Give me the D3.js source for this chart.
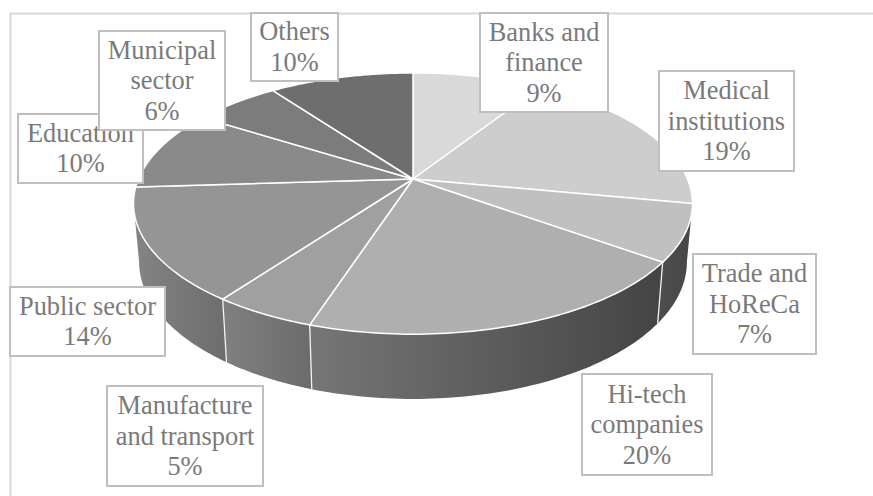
<!DOCTYPE html>
<html>
<head>
<meta charset="utf-8">
<script src="https://cdn.jsdelivr.net/npm/d3@7/dist/d3.min.js"></script>
<style>
  html, body { margin: 0; padding: 0; background: #fff; }
  svg { display: block; }
</style>
</head>
<body>
<script>
// Sector shares, in percent, clockwise from twelve o'clock
const categories = [
  ["Banks and", "finance"],
  ["Medical", "institutions"],
  ["Trade and", "HoReCa"],
  ["Hi-tech", "companies"],
  ["Manufacture", "and transport"],
  ["Public sector"],
  ["Education"],
  ["Municipal", "sector"],
  ["Others"]
];
const shares = [9, 19, 7, 20, 5, 14, 10, 6, 10];
const topColors = ["#d9d9d9", "#cdcdcd", "#c0c0c0", "#afafaf", "#a0a0a0", "#959595", "#8a8a8a", "#7c7c7c", "#6e6e6e"];

// Rim shading per visible sector: [left colour, right colour]
const rimShades = {
  2: ["#4d4d4d", "#464646"],
  3: ["#767676", "#444444"],
  4: ["#808080", "#6c6c6c"],
  5: ["#848484", "#6e6e6e"]
};

// Callout rectangles [x0, y0, x1, y1]; painted in this order so Municipal overlaps Education
const calloutBoxes = {
  0: [480, 13, 608, 112],
  1: [659, 71, 794, 171],
  2: [693, 254, 816, 354],
  3: [582, 374, 712, 475],
  4: [107, 386, 263, 486],
  5: [10, 287, 165, 356],
  6: [18, 114, 143, 183],
  7: [99, 31, 225, 130],
  8: [251, 13, 338, 81]
};
const calloutOrder = [0, 1, 2, 3, 4, 5, 6, 7, 8];

const width = 873, height = 496;
const apex = { x: 413, y: 179 };
const tilt = { a: 274.5, b: 126, k: 0.188 };     // perspective of the pie's top face
const base = { sx: 0.98, sy: 1.05, dy: 57 };     // lower rim relative to the top face

const svg = d3.select("body").append("svg").attr("width", width).attr("height", height);
const defs = svg.append("defs");

// Perspective mapping of a pie angle (0 = back, clockwise) onto the page
function topPoint(t) {
  const u = Math.sin(t), v = -Math.cos(t), w = 1 - tilt.k * v;
  return [apex.x + tilt.a * u / w, apex.y + tilt.b * v / w];
}
function basePoint(t) {
  const u = Math.sin(t), v = -Math.cos(t), w = 1 - tilt.k * v;
  return [apex.x + base.sx * tilt.a * u / w, apex.y + base.dy + base.sy * tilt.b * v / w];
}
function sampleAngles(a0, a1) {
  return d3.range(0, 1.0001, 1 / 64).map(f => a0 + (a1 - a0) * f);
}

const arcs = d3.pie().sort(null).value(d => d)(shares);
const pathLine = d3.line();

// Outer frame, running off the right and bottom of the page
svg.append("path")
  .attr("d", `M${width + 5},13.5H10.5V${height + 5}`)
  .attr("fill", "none").attr("stroke", "#d9d9d9").attr("stroke-width", 2);

// Rim wall for the part of the pie facing the viewer
const wallFrom = Math.PI / 2 + Math.asin(tilt.k);
const wallTo = 3 * Math.PI / 2 - Math.asin(tilt.k);
arcs.forEach((d, i) => {
  const a0 = Math.max(d.startAngle, wallFrom), a1 = Math.min(d.endAngle, wallTo);
  if (a0 >= a1) return;
  const angles = sampleAngles(a0, a1);
  const upper = angles.map(topPoint), lower = angles.map(basePoint).reverse();
  const xs = upper.map(p => p[0]);
  const grad = defs.append("linearGradient").attr("id", "rim" + i)
    .attr("gradientUnits", "userSpaceOnUse")
    .attr("x1", d3.min(xs)).attr("x2", d3.max(xs)).attr("y1", 0).attr("y2", 0);
  grad.append("stop").attr("offset", 0).attr("stop-color", rimShades[i][0]);
  grad.append("stop").attr("offset", 1).attr("stop-color", rimShades[i][1]);
  svg.append("path").attr("d", pathLine(upper.concat(lower)) + "Z").attr("fill", `url(#rim${i})`);
});

// Seams between rim sectors
arcs.forEach(d => {
  if (d.startAngle <= wallFrom || d.startAngle >= wallTo) return;
  svg.append("path")
    .attr("d", pathLine([topPoint(d.startAngle), basePoint(d.startAngle)]))
    .attr("stroke", "#f2f2f2").attr("stroke-width", 1.3).attr("fill", "none");
});

// Top face wedges
svg.append("g").selectAll("path").data(arcs).join("path")
  .attr("d", d => pathLine([[apex.x, apex.y]].concat(sampleAngles(d.startAngle, d.endAngle).map(topPoint))) + "Z")
  .attr("fill", (d, i) => topColors[i])
  .attr("stroke", "#fff").attr("stroke-width", 1.5).attr("stroke-linejoin", "round");

// Callouts
const lineGap = 30.5;
calloutOrder.forEach(i => {
  const [x0, y0, x1, y1] = calloutBoxes[i];
  const lines = categories[i].concat(shares[i] + "%");
  const g = svg.append("g");
  g.append("rect").attr("x", x0).attr("y", y0).attr("width", x1 - x0).attr("height", y1 - y0)
    .attr("fill", "#fff").attr("stroke", "#bfbfbf").attr("stroke-width", 2);
  const cx = (x0 + x1) / 2, cy = (y0 + y1) / 2;
  const firstBaseline = cy - (lines.length - 1) * lineGap / 2 + 8.5;
  g.selectAll("text").data(lines).join("text")
    .attr("x", cx).attr("y", (d, k) => firstBaseline + k * lineGap)
    .attr("text-anchor", "middle")
    .attr("font-family", "'Liberation Serif', serif").attr("font-size", 26.4)
    .attr("fill", "#7a7a7a").text(d => d);
});
</script>
</body>
</html>
